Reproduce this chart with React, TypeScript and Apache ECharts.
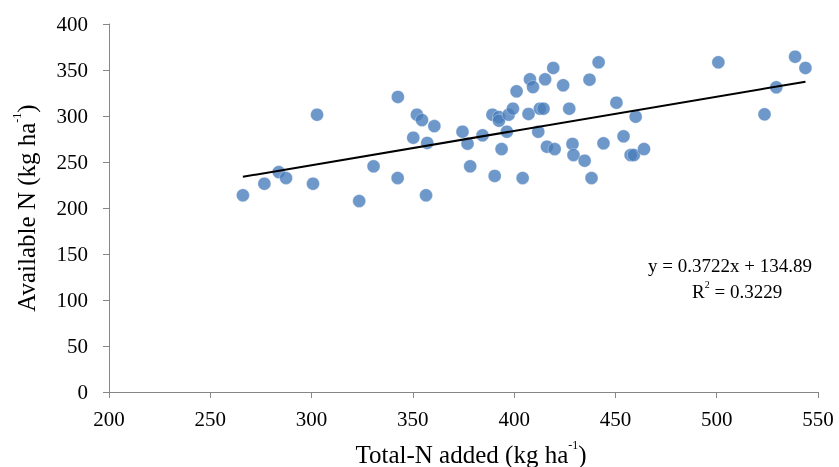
import React, { useEffect, useRef } from "react";
import * as echarts from "echarts";

const totalN: number[] = [
  266.1, 276.7, 283.8, 287.4, 300.7, 302.7, 323.5, 330.6, 342.6, 342.5,
  352.0, 354.5, 350.2, 357.1, 356.5, 360.6, 374.5, 377.0, 378.3, 384.4,
  389.3, 392.5, 392.5, 397.3, 399.4, 396.4, 393.8, 390.4, 401.2, 404.2,
  407.1, 407.8, 409.3, 411.9, 412.7, 414.5, 415.3, 419.3, 416.2, 420.0,
  424.2, 427.2, 428.8, 429.3, 434.8, 437.2, 438.2, 441.7, 444.1, 450.5,
  454.0, 457.5, 459.1, 460.0, 464.1, 500.8, 523.6, 529.4, 538.7, 543.8,
];
const availableN: number[] = [
  213.8, 226.4, 239.0, 232.6, 226.4, 301.4, 207.6, 245.3, 320.7, 232.6,
  301.4, 295.6, 276.4, 270.7, 213.8, 289.0, 282.9, 269.9, 245.3, 279.0,
  301.4, 298.9, 294.9, 301.4, 308.0, 282.9, 264.1, 234.8, 326.8, 232.6,
  302.2, 339.9, 331.5, 282.9, 308.0, 308.0, 339.9, 352.2, 266.7, 264.1,
  333.4, 308.0, 269.6, 257.6, 251.4, 339.5, 232.6, 358.4, 270.3, 314.5,
  277.9, 257.6, 257.6, 299.3, 264.1, 358.4, 301.8, 331.2, 364.5, 352.2,
];
const slope = 0.3722;
const intercept = 134.89;
const trendX: number[] = [266.1, 543.8];
const xTicks = { min: 200, max: 550, interval: 50 };
const yTicks = { min: 0, max: 400, interval: 50 };

export default function App() {
  const ref = useRef<HTMLDivElement>(null);
  useEffect(() => {
    if (!ref.current) return;
    const chart = echarts.init(ref.current, null, { renderer: "svg" });
    const font = "Liberation Serif";
    const axisColor = "#868686";
    const points = totalN.map((x, i) => [x, availableN[i]]);
    const trend = trendX.map((x) => [x, slope * x + intercept]);
    const nameRich = {
      a: { fontSize: 25, fontFamily: font, color: "#000", lineHeight: 28, verticalAlign: "bottom" },
      s: { fontSize: 12, fontFamily: font, color: "#000", lineHeight: 28, verticalAlign: "top" },
    };
    chart.setOption({
      animation: false,
      textStyle: { fontFamily: font },
      grid: { left: 109, right: 21, top: 24, bottom: 75, outerBoundsMode: "none", containLabel: false },
      xAxis: {
        type: "value",
        min: xTicks.min,
        max: xTicks.max,
        interval: xTicks.interval,
        splitLine: { show: false },
        axisLine: { lineStyle: { color: axisColor, width: 1 } },
        axisTick: { show: true, length: 6, lineStyle: { color: axisColor } },
        axisLabel: { color: "#000", fontSize: 21, fontFamily: font, margin: 16 },
        name: "{a|Total-N added (kg ha}{s|-1}{a|)}",
        nameLocation: "middle",
        nameGap: 47,
        nameTextStyle: { fontFamily: font, padding: [0, 0, 0, 15], rich: nameRich },
      },
      yAxis: {
        type: "value",
        min: yTicks.min,
        max: yTicks.max,
        interval: yTicks.interval,
        splitLine: { show: false },
        axisLine: { show: true, lineStyle: { color: axisColor, width: 1 } },
        axisTick: { show: true, length: 6, lineStyle: { color: axisColor } },
        axisLabel: { color: "#000", fontSize: 21, fontFamily: font, margin: 21 },
        name: "{a|Available N (kg ha}{s|-1}{a|)}",
        nameLocation: "middle",
        nameGap: 70,
        nameTextStyle: { fontFamily: font, rich: nameRich },
      },
      graphic: [
        {
          type: "text",
          left: 648,
          top: 256,
          style: {
            text: "y = 0.3722x + 134.89",
            fontSize: 19,
            fontFamily: font,
            fill: "#000",
          },
        },
        {
          type: "text",
          left: 692,
          top: 279,
          style: {
            text: "{a|R}{s|2}{a| = 0.3229}",
            fontFamily: font,
            fill: "#000",
            rich: {
              a: { fontSize: 19, fontFamily: font, color: "#000", lineHeight: 22, verticalAlign: "bottom" },
              s: { fontSize: 10, fontFamily: font, color: "#000", lineHeight: 22, verticalAlign: "top" },
            },
          },
        },
      ],
      series: [
        {
          type: "scatter",
          data: points,
          symbol: "circle",
          symbolSize: 13,
          itemStyle: { color: "#4A7EBB", borderColor: "#ffffff", borderWidth: 0.4 },
          z: 2,
        },
        {
          type: "line",
          data: trend,
          symbol: "none",
          lineStyle: { color: "#000", width: 2 },
          z: 3,
        },
      ],
    });
    return () => chart.dispose();
  }, []);
  return (
    <div
      ref={ref}
      style={{ position: "fixed", left: 0, top: 0, width: 839, height: 467 }}
    />
  );
}
